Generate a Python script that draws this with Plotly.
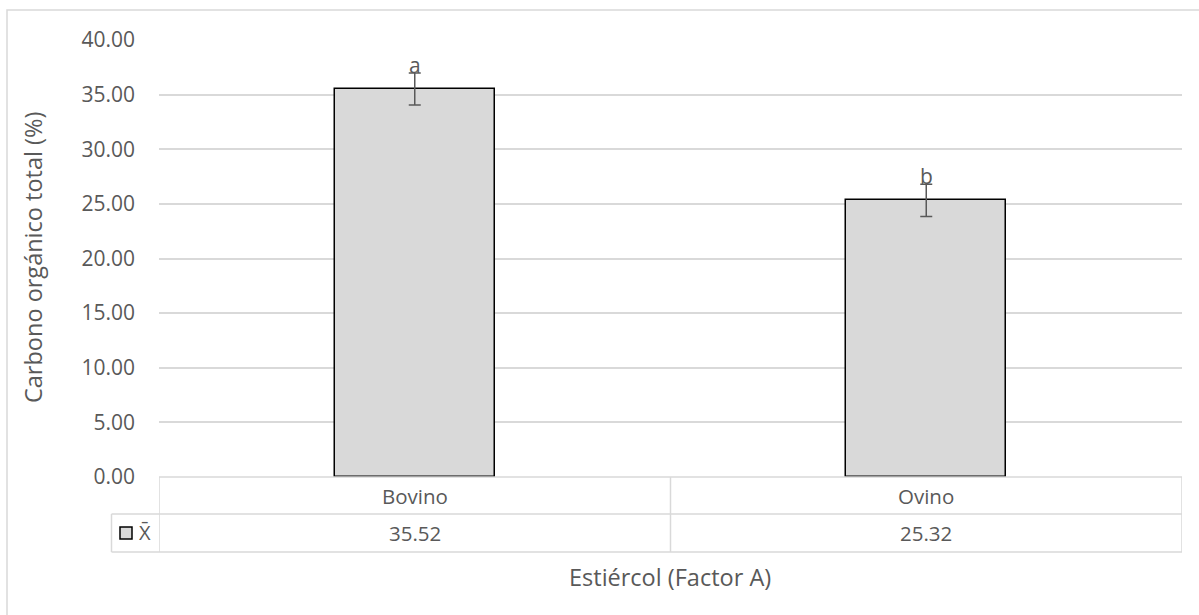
import plotly.graph_objects as go

categories = ["Bovino", "Ovino"]
means = [35.52, 25.32]
errors = [1.47, 1.47]
letters = ["a", "b"]
y_ticks = [0, 5, 10, 15, 20, 25, 30, 35, 40]

W, H = 1199, 615
L, R, T, B = 159, 17, 40, 138
PW, PH = W - L - R, H - T - B
FONT = "Open Sans, Noto Sans, Liberation Sans, sans-serif"
TXT = "#595959"
GRID = "#d9d9d9"


def px_x(px):
    return (px - L) / PW


def px_y(py):
    return (H - B - py) / PH


fig = go.Figure()
fig.add_trace(go.Bar(
    x=[0, 1], y=means, width=0.313,
    marker=dict(color="#d9d9d9", line=dict(color="#000000", width=1.5)),
    error_y=dict(type="data", array=errors, visible=True, color="#595959",
                 thickness=1.5, width=6),
    showlegend=False, hoverinfo="skip",
))

annotations = []
for i, (m, e, lt) in enumerate(zip(means, errors, letters)):
    annotations.append(dict(x=i, y=m + e, xref="x", yref="y", text=lt,
                            showarrow=False, xanchor="center", yanchor="bottom", yshift=-8,
                            font=dict(family=FONT, size=21, color=TXT)))

shapes = []
line = dict(color=GRID, width=1.5)
# data table horizontal lines
for py in [477, 514, 552]:
    x0 = px_x(111.5) if py != 477 else 0
    shapes.append(dict(type="line", xref="paper", yref="paper", x0=x0, x1=1,
                       y0=px_y(py), y1=px_y(py), line=line))
# vertical lines
for xx in [-0.5, 0.5, 1.5]:
    shapes.append(dict(type="line", xref="x", yref="paper", x0=xx, x1=xx,
                       y0=px_y(477), y1=px_y(552), line=line))
shapes.append(dict(type="line", xref="paper", yref="paper", x0=px_x(111.5),
                   x1=px_x(111.5), y0=px_y(514), y1=px_y(552), line=line))
# legend key square
shapes.append(dict(type="rect", xref="paper", yref="paper",
                   x0=px_x(120), x1=px_x(132), y0=px_y(539), y1=px_y(527),
                   fillcolor="#d9d9d9", line=dict(color="#000000", width=1.5)))
# outer chart border
shapes.append(dict(type="rect", xref="paper", yref="paper",
                   x0=px_x(7), x1=px_x(1210), y0=px_y(625), y1=px_y(10),
                   line=dict(color=GRID, width=1.5), layer="below"))

for i, (c, m) in enumerate(zip(categories, means)):
    annotations.append(dict(x=i, y=px_y(496), xref="x", yref="paper", text=c,
                            showarrow=False, xanchor="center", yanchor="middle",
                            font=dict(family=FONT, size=20.5, color=TXT)))
    annotations.append(dict(x=i, y=px_y(533), xref="x", yref="paper", text=f"{m:.2f}",
                            showarrow=False, xanchor="center", yanchor="middle",
                            font=dict(family=FONT, size=20.5, color=TXT)))
annotations.append(dict(x=px_x(145), y=px_y(532), xref="paper", yref="paper", text="X̄",
                        showarrow=False, xanchor="center", yanchor="middle",
                        font=dict(family=FONT, size=20, color=TXT)))
annotations.append(dict(x=px_x(670), y=px_y(577), xref="paper", yref="paper",
                        text="Estiércol (Factor A)", showarrow=False,
                        xanchor="center", yanchor="middle",
                        font=dict(family=FONT, size=23.5, color=TXT)))
annotations.append(dict(x=px_x(33), y=px_y(258), xref="paper", yref="paper",
                        text="Carbono orgánico total (%)", showarrow=False,
                        textangle=-90, xanchor="center", yanchor="middle",
                        font=dict(family=FONT, size=23.5, color=TXT)))

fig.update_layout(
    width=W, height=H,
    margin=dict(l=L, r=R, t=T, b=B, autoexpand=False),
    paper_bgcolor="white", plot_bgcolor="white",
    font=dict(family=FONT, color=TXT),
    xaxis=dict(range=[-0.5, 1.5], showticklabels=False, showgrid=False,
               zeroline=False, showline=False, fixedrange=True),
    yaxis=dict(range=[0, 40], tickvals=y_ticks,
               ticktext=[f"{v:.2f}" for v in y_ticks],
               showgrid=True, gridcolor=GRID, gridwidth=1.5, zeroline=False,
               showline=False, ticks="", ticklabelstandoff=23,
               tickfont=dict(family=FONT, size=21, color=TXT)),
    shapes=shapes, annotations=annotations, bargap=0,
)

fig.write_html("out.html", config={"displayModeBar": False},
               post_script="document.body.style.margin='0';document.body.style.overflow='hidden';")
